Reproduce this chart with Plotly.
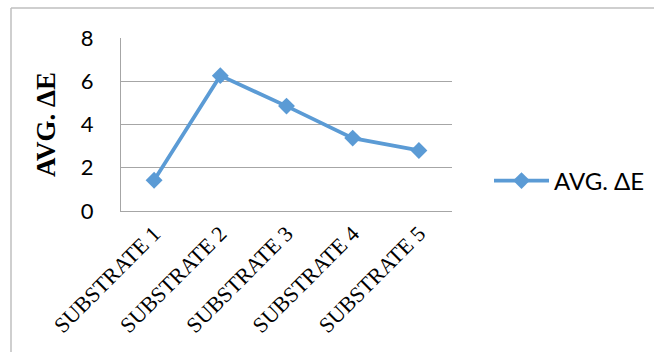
import plotly.graph_objects as go

categories = ["SUBSTRATE 1", "SUBSTRATE 2", "SUBSTRATE 3", "SUBSTRATE 4", "SUBSTRATE 5"]
avg_delta_e = [1.42, 6.26, 4.85, 3.37, 2.80]
series_name = "AVG. ΔE"
y_title = "AVG. ΔE"
y_ticks = [0, 2, 4, 6, 8]

W, H = 654, 352
L, R, T, B = 121, 452, 38, 211  # plot area in px

fig = go.Figure()
fig.add_trace(go.Scatter(
    x=categories, y=avg_delta_e, name=series_name, mode="lines+markers",
    line=dict(color="#5B9BD5", width=3.75),
    marker=dict(symbol="diamond", size=13, color="#5B9BD5"),
))

def px_to_paper_x(px):
    return (px - L) / (R - L)

def px_to_paper_y(py):
    return (B - py) / (B - T)

fig.update_layout(
    width=W, height=H,
    margin=dict(l=L, r=W - R, t=T, b=H - B, pad=0, autoexpand=False),
    paper_bgcolor="white", plot_bgcolor="white",
    showlegend=True,
    legend=dict(x=px_to_paper_x(489), y=px_to_paper_y(181), xanchor="left", yanchor="middle",
                font=dict(family="Lato", size=24, color="black"), itemwidth=55,
                bgcolor="rgba(0,0,0,0)"),
    xaxis=dict(
        type="category", range=[-0.5, 4.5], tickangle=-45,
        tickfont=dict(family="Liberation Serif", size=22, color="black"),
        showgrid=False, showline=True, linecolor="#A6A6A6", linewidth=1,
        ticks="", zeroline=False,
    ),
    yaxis=dict(
        range=[0, 8], tickvals=y_ticks, ticks="",
        tickfont=dict(family="Lato", size=22, color="black"),
        showgrid=True, gridcolor="#A6A6A6", gridwidth=1,
        showline=True, linecolor="#A6A6A6", linewidth=1, zeroline=False,
        ticklabelstandoff=22,
        title=dict(text=y_title, font=dict(family="Liberation Serif", size=27, color="black", weight="bold"),
                   standoff=17),
    ),
    shapes=[
        dict(type="line", xref="paper", yref="paper",
             x0=px_to_paper_x(11), x1=px_to_paper_x(11),
             y0=px_to_paper_y(8), y1=px_to_paper_y(360),
             line=dict(color="#BFBFBF", width=1.5)),
        dict(type="line", xref="paper", yref="paper",
             x0=px_to_paper_x(11), x1=px_to_paper_x(660),
             y0=px_to_paper_y(8), y1=px_to_paper_y(8),
             line=dict(color="#BFBFBF", width=1.5)),
    ],
)

fig.write_html("out.html")
